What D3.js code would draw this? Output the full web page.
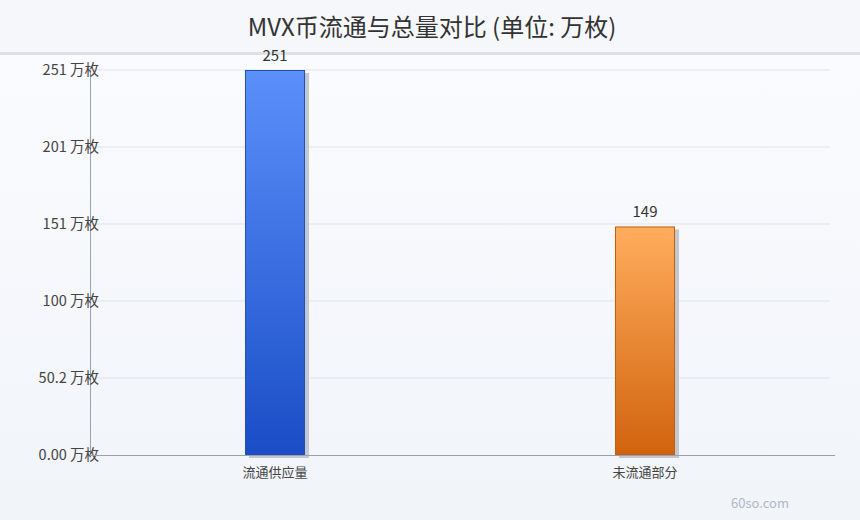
<!DOCTYPE html>
<html><head><meta charset="utf-8">
<script src="https://cdn.jsdelivr.net/npm/d3@7"></script>
<style>
html,body{margin:0;padding:0;}
body{width:860px;height:520px;overflow:hidden;font-family:"Noto Sans CJK SC","Noto Sans",sans-serif;}
</style></head>
<body>
<script>
const titleText = "MVX币流通与总量对比 (单位: 万枚)";
const categories = ["流通供应量", "未流通部分"];
const values = [251, 149];
const yTickValues = [0, 50.2, 100.4, 150.6, 200.8, 251];
const unitSuffix = " 万枚";
const watermark = "60so.com";

const W = 860, H = 520;
const margin = {left: 90, right: 30, top: 70, bottom: 65};
const svg = d3.select("body").append("svg").attr("width", W).attr("height", H);
const defs = svg.append("defs");

const bg = defs.append("linearGradient").attr("id","bg").attr("x1",0).attr("y1",0).attr("x2",0).attr("y2",1);
bg.append("stop").attr("offset","0%").attr("stop-color","#fbfcff");
bg.append("stop").attr("offset","100%").attr("stop-color","#f1f4f9");
svg.append("rect").attr("width",W).attr("height",H).attr("fill","url(#bg)");
svg.append("rect").attr("width",W).attr("height",52).attr("fill","#f5f7fa");
svg.append("rect").attr("y",52).attr("width",W).attr("height",3).attr("fill","#dde1ea");

const grads = [["#5b90fb","#1a4dc6","#2050b0"],["#ffad5d","#d1630e","#c0600f"]];
grads.forEach((g,i)=>{
  const lg = defs.append("linearGradient").attr("id","g"+i).attr("x1",0).attr("y1",0).attr("x2",0).attr("y2",1);
  lg.append("stop").attr("offset","0%").attr("stop-color",g[0]);
  lg.append("stop").attr("offset","100%").attr("stop-color",g[1]);
});

svg.append("text").attr("x",432).attr("y",36).attr("text-anchor","middle")
  .attr("font-size",24).attr("fill","#333").text(titleText);

const x = d3.scaleBand().domain(categories).range([margin.left, W - margin.right]);
const y = d3.scaleLinear().domain([0, d3.max(yTickValues)]).range([H - margin.bottom, margin.top]);
const fmt = d3.format(".3r");

// grid
svg.append("g").selectAll("line").data(yTickValues.slice(1)).join("line")
  .attr("x1",margin.left).attr("x2",W - margin.right)
  .attr("y1",d=>y(d)).attr("y2",d=>y(d))
  .attr("stroke","#dfe3ea").attr("stroke-width",1);

// axes lines
svg.append("line").attr("x1",margin.left+0.5).attr("x2",margin.left+0.5)
  .attr("y1",y(d3.max(yTickValues))).attr("y2",y(0)).attr("stroke","#9aa0ac");

// y labels
svg.append("g").selectAll("text").data(yTickValues).join("text")
  .attr("x",99).attr("y",d=>y(d)+5).attr("text-anchor","end")
  .attr("font-size",14.5).attr("fill","#444").text(d=>fmt(d)+unitSuffix);

const bw = 60;
const bars = svg.append("g");
// shadows
bars.selectAll("rect.sh").data(values).join("rect").attr("class","sh")
  .attr("x",(d,i)=>x(categories[i])+x.bandwidth()/2-bw/2+4)
  .attr("y",d=>y(d)+3).attr("width",bw).attr("height",d=>y(0)-y(d))
  .attr("fill","#c3c7d2");
bars.selectAll("rect.b").data(values).join("rect").attr("class","b")
  .attr("x",(d,i)=>x(categories[i])+x.bandwidth()/2-bw/2+0.5)
  .attr("y",d=>y(d)+0.5).attr("width",bw-1).attr("height",d=>y(0)-y(d)-1)
  .attr("fill",(d,i)=>"url(#g"+i+")").attr("stroke",(d,i)=>grads[i][2]).attr("stroke-width",1);

// x axis line
svg.append("line").attr("x1",margin.left).attr("x2",835)
  .attr("y1",y(0)+0.5).attr("y2",y(0)+0.5).attr("stroke","#9aa0ac");

// value labels
svg.append("g").selectAll("text").data(values).join("text")
  .attr("x",(d,i)=>x(categories[i])+x.bandwidth()/2).attr("y",d=>y(d)-9)
  .attr("text-anchor","middle").attr("font-size",15).attr("fill","#333").text(d=>d);

// category labels
svg.append("g").selectAll("text").data(categories).join("text")
  .attr("x",d=>x(d)+x.bandwidth()/2).attr("y",y(0)+22)
  .attr("text-anchor","middle").attr("font-size",13).attr("fill","#444").text(d=>d);

svg.append("text").attr("x",760).attr("y",508).attr("text-anchor","middle")
  .attr("font-size",13).attr("fill","#b0b7c6").text(watermark);
</script>
</body></html>
